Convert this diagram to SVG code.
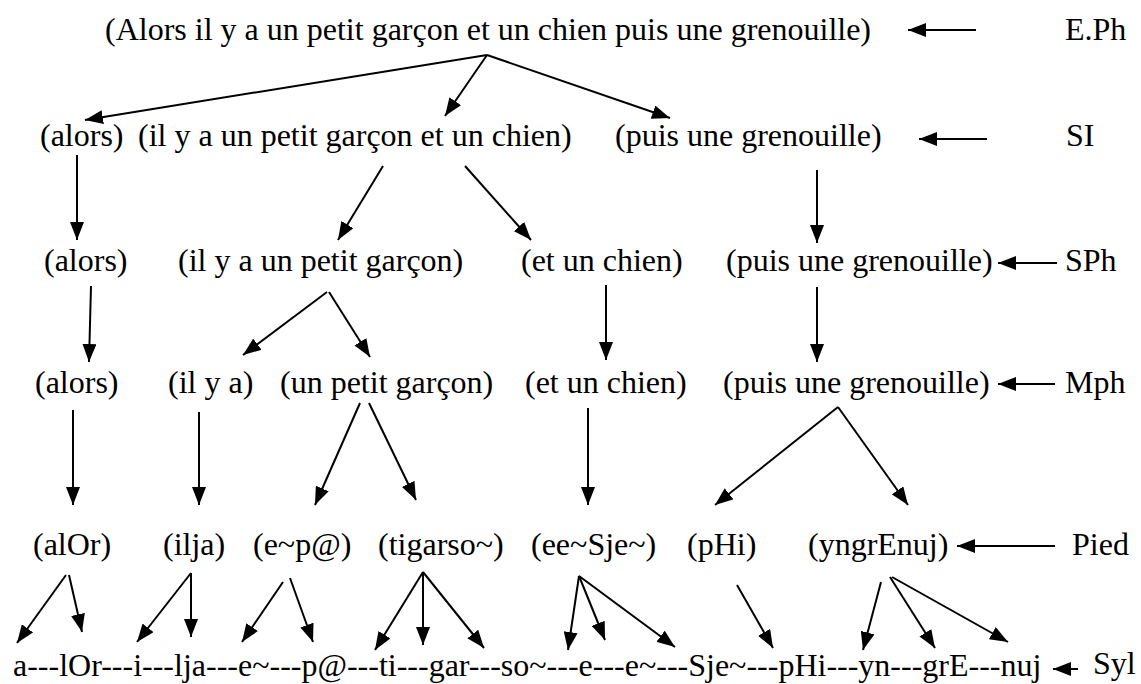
<svg xmlns="http://www.w3.org/2000/svg" width="1141" height="684" viewBox="0 0 1141 684">
<defs>
<marker id="ah" markerUnits="userSpaceOnUse" markerWidth="18" markerHeight="14" refX="18" refY="7" orient="auto">
<path d="M0,0 L18,7 L0,14 z" fill="#000"/>
</marker>
<style>
.c line{stroke:#000;stroke-width:2;marker-end:url(#ah)}
</style>
</defs>
<rect width="1141" height="684" fill="#fff"/>
<g font-family="'Liberation Serif', 'Times New Roman', serif" font-size="32" fill="#000">
<g id="n-eph"><text x="105" y="40">(Alors il y a un petit garçon et un chien puis une grenouille)</text></g>
<g id="n-si-alors"><text x="40" y="146">(alors)</text></g>
<g id="n-si-il"><text x="138" y="146">(il y a un petit garçon et un chien)</text></g>
<g id="n-si-puis"><text x="615" y="146">(puis une grenouille)</text></g>
<g id="n-sph-alors"><text x="44" y="271">(alors)</text></g>
<g id="n-sph-il"><text x="178" y="271">(il y a un petit garçon)</text></g>
<g id="n-sph-et"><text x="521" y="271">(et un chien)</text></g>
<g id="n-sph-puis"><text x="726" y="271">(puis une grenouille)</text></g>
<g id="n-mph-alors"><text x="35" y="393">(alors)</text></g>
<g id="n-mph-il"><text x="168" y="393">(il y a)</text></g>
<g id="n-mph-un"><text x="280" y="393">(un petit garçon)</text></g>
<g id="n-mph-et"><text x="525" y="393">(et un chien)</text></g>
<g id="n-mph-puis"><text x="723" y="393">(puis une grenouille)</text></g>
<g id="n-p-alOr"><text x="33" y="555">(alOr)</text></g>
<g id="n-p-ilja"><text x="163" y="555">(ilja)</text></g>
<g id="n-p-ep"><text x="253" y="555">(e~p@)</text></g>
<g id="n-p-tig"><text x="378" y="555">(tigarso~)</text></g>
<g id="n-p-ee"><text x="531" y="555">(ee~Sje~)</text></g>
<g id="n-p-phi"><text x="687" y="555">(pHi)</text></g>
<g id="n-p-yng"><text x="808" y="555">(yngrEnuj)</text></g>
<g id="n-syl"><text x="13" y="676">a---lOr---i---lja---e~---p@---ti---gar---so~---e---e~---Sje~---pHi---yn---grE---nuj</text></g>
<g id="l-eph"><text x="1065" y="40">E.Ph</text></g>
<g id="l-si"><text x="1066" y="146">SI</text></g>
<g id="l-sph"><text x="1065" y="271">SPh</text></g>
<g id="l-mph"><text x="1065" y="393">Mph</text></g>
<g id="l-pied"><text x="1072" y="555">Pied</text></g>
<g id="l-syl"><text x="1093" y="674">Syl</text></g>
</g>
<g id="connectors" class="c">
<line x1="976" y1="30" x2="908" y2="30"/>
<line x1="987" y1="139" x2="919" y2="139"/>
<line x1="1057" y1="263" x2="998" y2="263"/>
<line x1="1055" y1="384" x2="998" y2="384"/>
<line x1="1055" y1="546" x2="957" y2="546"/>
<line x1="1078" y1="669" x2="1053" y2="669"/>
<line x1="487" y1="55" x2="85" y2="120"/>
<line x1="487" y1="55" x2="445" y2="116"/>
<line x1="487" y1="55" x2="670" y2="118"/>
<line x1="77" y1="155" x2="77" y2="240"/>
<line x1="383" y1="166" x2="338" y2="240"/>
<line x1="465" y1="166" x2="531" y2="240"/>
<line x1="817" y1="170" x2="817" y2="243"/>
<line x1="91" y1="286" x2="89" y2="362"/>
<line x1="327" y1="292" x2="243" y2="355"/>
<line x1="329" y1="292" x2="370" y2="357"/>
<line x1="606" y1="285" x2="606" y2="360"/>
<line x1="817" y1="287" x2="817" y2="362"/>
<line x1="73" y1="410" x2="73" y2="505"/>
<line x1="199" y1="412" x2="199" y2="505"/>
<line x1="360" y1="403" x2="315" y2="505"/>
<line x1="369" y1="403" x2="416" y2="500"/>
<line x1="588" y1="408" x2="588" y2="505"/>
<line x1="838" y1="407" x2="715" y2="505"/>
<line x1="838" y1="407" x2="908" y2="505"/>
<line x1="66" y1="575" x2="17" y2="643"/>
<line x1="69" y1="575" x2="82" y2="632"/>
<line x1="191" y1="573" x2="137" y2="642"/>
<line x1="191" y1="573" x2="191" y2="637"/>
<line x1="283" y1="582" x2="242" y2="642"/>
<line x1="290" y1="578" x2="313" y2="642"/>
<line x1="423" y1="572" x2="375" y2="650"/>
<line x1="423" y1="572" x2="423" y2="645"/>
<line x1="423" y1="572" x2="484" y2="648"/>
<line x1="579" y1="576" x2="568" y2="650"/>
<line x1="579" y1="576" x2="605" y2="640"/>
<line x1="579" y1="576" x2="675" y2="647"/>
<line x1="737" y1="585" x2="773" y2="648"/>
<line x1="881" y1="582" x2="863" y2="650"/>
<line x1="890" y1="577" x2="935" y2="648"/>
<line x1="892" y1="577" x2="1008" y2="642"/>
</g>
</svg>
